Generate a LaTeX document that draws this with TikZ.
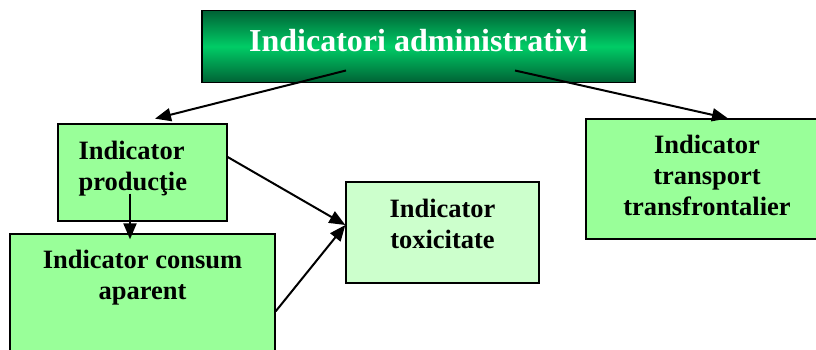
\documentclass[tikz,border=0pt]{standalone}
\usepackage{fontspec}
\setmainfont{Liberation Serif}
\usetikzlibrary{arrows.meta,positioning}

\definecolor{boxgreen}{HTML}{99FF99}
\definecolor{palegreen}{HTML}{CCFFCC}
\definecolor{darkgreen}{HTML}{006235}
\definecolor{midgreen}{HTML}{00CC66}

\tikzset{
	box/.style={draw=black, line width=1.3pt, inner sep=0pt, fill=boxgreen},
	boxtext/.style={inner sep=0pt, align=center, font=\fontsize{26.5}{31}\selectfont\bfseries},
	link/.style={line width=2pt, -{Triangle[length=16pt,width=13pt]}}
}

\begin{document}
\begin{tikzpicture}[x=1pt,y=-1pt]
	\clip (0,0) rectangle (816,349);
	\fill[white] (0,0) rectangle (816,349);

	% boxes
	\node[box, minimum width=433pt, minimum height=72pt, top color=darkgreen,
		bottom color=darkgreen, middle color=midgreen] (admin) at (418.5,46.5) {};
	\node[box, minimum width=169pt, minimum height=97pt] (prod) at (142.5,172.5) {};
	\node[box, minimum width=265pt, minimum height=146pt] (consum) at (142.5,307) {};
	\node[box, minimum width=193pt, minimum height=101pt, fill=palegreen] (tox) at (442.5,232.5) {};
	\node[box, minimum width=242pt, minimum height=120pt] (trans) at (707,179) {};

	% texts
	\node[boxtext, anchor=base, text=white, font=\fontsize{32}{36}\selectfont\bfseries]
		(adminlbl) at ([yshift=-5.2pt]admin.center) {Indicatori administrativi};
	\node[boxtext, align=left, below right=17.6pt and 21pt of prod.north west] (prodlbl) {Indicator\\producţie};
	\node[boxtext, below=17pt of consum.north] (consumlbl) {Indicator consum\\aparent};
	\node[boxtext, below=17.4pt of tox.north] (toxlbl) {Indicator\\toxicitate};
	\node[boxtext, below=17pt of trans.north] (translbl) {Indicator\\transport\\transfrontalier};

	% connectors
	\draw[link] ([xshift=-72.5pt,yshift=-24pt]admin.center) -- ([xshift=12.5pt,yshift=4.7pt]prod.north);
	\draw[link] ([xshift=96.5pt,yshift=-24pt]admin.center) -- ([xshift=21pt]trans.north);
	\draw[link] ([xshift=-12.5pt,yshift=28pt]prod.south) -- ([xshift=-12.5pt,yshift=-6pt]consum.north);
	\draw[link] ([yshift=15.5pt]prod.east) -- ([yshift=7.5pt]tox.west);
	\draw[link] ([yshift=-78pt]consum.north east) -- ([yshift=7.5pt]tox.west);
\end{tikzpicture}
\end{document}
